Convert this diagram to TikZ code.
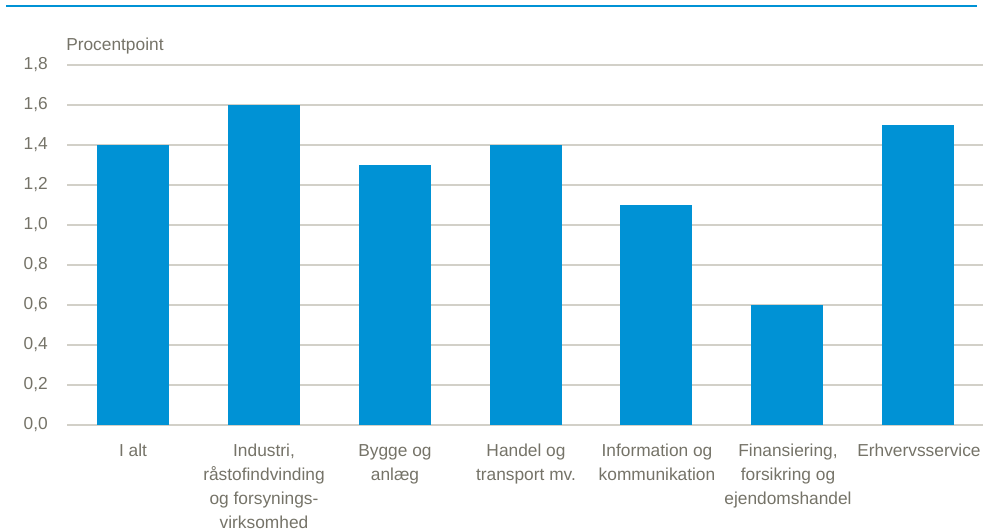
\documentclass[tikz,border=0pt]{standalone}
\usepackage{fontspec}
\setmainfont{Liberation Sans}
\usetikzlibrary{arrows}
\definecolor{barblue}{RGB}{0,146,213}
\definecolor{gridgray}{RGB}{210,208,200}
\definecolor{txtgray}{RGB}{117,115,104}

\begin{document}
\begin{tikzpicture}[x=0.75pt,y=-0.75pt,
  lbl/.style={text=txtgray, inner sep=0pt, font=\fontsize{13}{18}\selectfont},
  cat/.style={lbl, align=center, anchor=north}]
\def \zero {425}
\def \unit {200}
\def \step {130.86}

\useasboundingbox (0,0) rectangle (983,532);
\draw[barblue, line width=1.6pt] (6,6) -- (977,6);

\foreach \v/\t in {0/0,0.2/2,0.4/4,0.6/6,0.8/8,1.0/10,1.2/12,1.4/14,1.6/16,1.8/18} {
  \draw[gridgray, line width=1.1pt] (67,{\zero-\unit*\v}) -- (983,{\zero-\unit*\v});
}
\node[lbl, anchor=east] at (48,425) (y0) {0,0};
\node[lbl, anchor=east] at (48,385) (y2) {0,2};
\node[lbl, anchor=east] at (48,345) (y4) {0,4};
\node[lbl, anchor=east] at (48,305) (y6) {0,6};
\node[lbl, anchor=east] at (48,265) (y8) {0,8};
\node[lbl, anchor=east] at (48,225) (y10) {1,0};
\node[lbl, anchor=east] at (48,185) (y12) {1,2};
\node[lbl, anchor=east] at (48,145) (y14) {1,4};
\node[lbl, anchor=east] at (48,105) (y16) {1,6};
\node[lbl, anchor=east] at (48,65) (y18) {1,8};
\node[lbl, anchor=west] at (66,46) (unit) {Procentpoint};

\foreach \i/\v in {0/1.4,1/1.6,2/1.3,3/1.4,4/1.1,5/0.6,6/1.5} {
  \fill[barblue] ({133+\step*\i-36},\zero) rectangle ({133+\step*\i+36},{\zero-\unit*\v});
}

\node[cat] at (133,444) (c1) {I alt};
\node[cat] at (264,444) (c2) {Industri,\\råstofindvinding\\og forsynings-\\virksomhed};
\node[cat] at (395,444) (c3) {Bygge og\\anlæg};
\node[cat] at (526,444) (c4) {Handel og\\transport mv.};
\node[cat] at (657,444) (c5) {Information og\\kommunikation};
\node[cat] at (788,444) (c6) {Finansiering,\\forsikring og\\ejendomshandel};
\node[cat] at (919,444) (c7) {Erhvervsservice};

\end{tikzpicture}
\end{document}
